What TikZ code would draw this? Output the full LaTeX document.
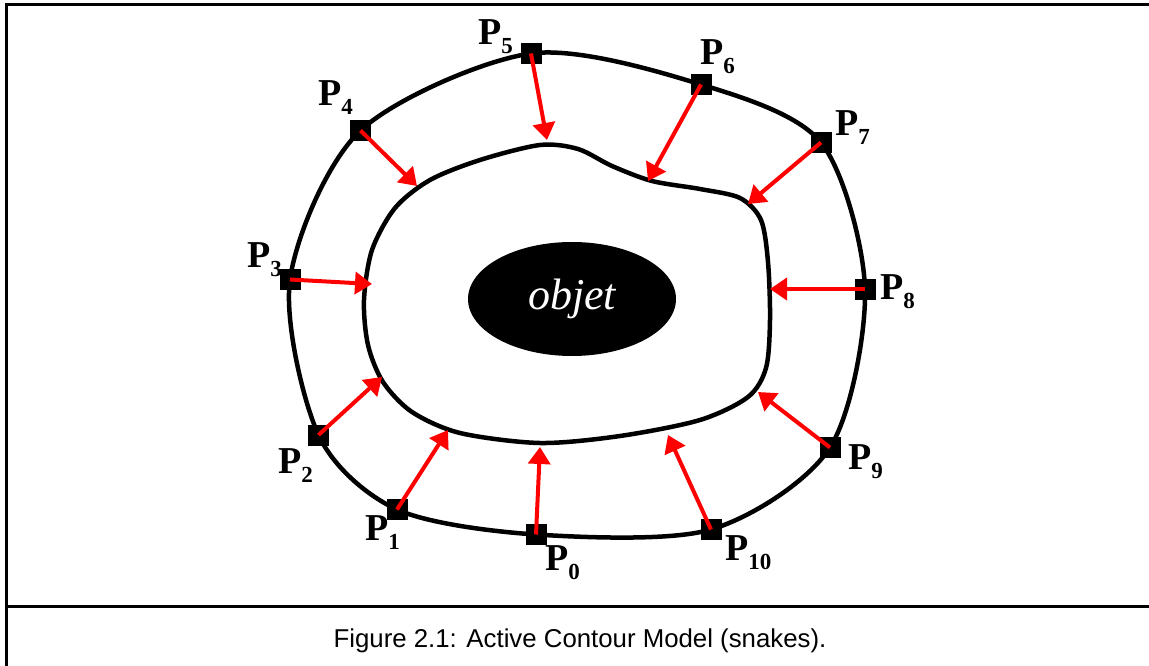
\documentclass[tikz,border=0pt]{standalone}
\usepackage{fontspec}
\setmainfont{Liberation Serif}
\setsansfont{Liberation Sans}
\usepackage{tikz}
\usetikzlibrary{arrows.meta,positioning,shapes.geometric}

\newcommand{\ptlab}[1]{P\raisebox{-9pt}{\fontsize{23}{23}\selectfont #1}}

\begin{document}
\begin{tikzpicture}[
    x=1pt, y=-1pt,
    ctrl/.style={draw=none, fill=black, minimum size=21pt, inner sep=0pt},
    plab/.style={anchor=base west, inner sep=0pt, font=\fontsize{38}{40}\selectfont\bfseries},
    contour/.style={line width=4.5pt, line join=round},
    force/.style={red, line width=4pt, -{Triangle[length=17pt, width=22pt]}},
    obj/.style={ellipse, fill=black, minimum width=208pt, minimum height=114pt,
                text=white, font=\fontsize{44}{44}\selectfont\itshape},
    frame/.style={line width=3pt}
]
\useasboundingbox (0,0) rectangle (1149,666);
% frame and caption
\draw[frame] (1149,5) -- (6,5) -- (6,666);
\draw[frame] (6,606.5) -- (1149,606.5);
\node[anchor=base, font=\sffamily\fontsize{25.8}{28}\selectfont] (cap) at (580,647)
    {Figure 2.1: Active Contour Model (snakes).};

% control points of the snake
\node[ctrl] (P0) at (536,534.5) {};
\node[ctrl] (P1) at (397,509.5) {};
\node[ctrl] (P2) at (318.5,435) {};
\node[ctrl] (P3) at (290,279.5) {};
\node[ctrl] (P4) at (360.5,130.5) {};
\node[ctrl] (P5) at (531,53.5) {};
\node[ctrl] (P6) at (701,84.5) {};
\node[ctrl] (P7) at (821,142.5) {};
\node[ctrl] (P8) at (865,289) {};
\node[ctrl] (P9) at (830,447.5) {};
\node[ctrl] (P10) at (711,529.5) {};

% initial contour
\draw[contour] plot[smooth cycle] coordinates {(P0.center) (P1.center) (P2.center)
    (P3.center) (P4.center) (P5.center) (P6.center) (P7.center) (P8.center)
    (P9.center) (P10.center)};

% final contour
\draw[contour] plot[smooth cycle] coordinates {(364,300) (372,250) (395,208)
    (430,180) (480,160) (540,145) (578,149) (612,166) (652,181) (700,189)
    (740,198) (761,220) (768,262) (770,320) (766,368) (748,397) (700,420)
    (620,436) (540,443) (460,433) (412,412) (383,382) (368,345)};

\node[obj] (objet) at (572,299) {objet};

% labels
\node[plab] (L0) at (545,570) {\ptlab{0}};
\node[plab] (L1) at (365,540) {\ptlab{1}};
\node[plab] (L2) at (278,473) {\ptlab{2}};
\node[plab] (L3) at (247,267) {\ptlab{3}};
\node[plab] (L4) at (318,106) {\ptlab{4}};
\node[plab] (L5) at (478,45) {\ptlab{5}};
\node[plab] (L6) at (700,65) {\ptlab{6}};
\node[plab] (L7) at (835,136) {\ptlab{7}};
\node[plab] (L8) at (880,299) {\ptlab{8}};
\node[plab] (L9) at (848,469) {\ptlab{9}};
\node[plab] (L10) at (725,560) {\ptlab{10}};

% arrow tips on the object boundary
\coordinate (T0) at (540,447);
\coordinate (T1) at (448,430);
\coordinate (T2) at (382,377);
\coordinate (T3) at (372,284);
\coordinate (T4) at (417,186);
\coordinate (T5) at (547,140);
\coordinate (T6) at (648,181);
\coordinate (T7) at (748,204);
\coordinate (T8) at (770,289);
\coordinate (T9) at (758,392);
\coordinate (T10) at (668,435);

\foreach \i in {0,...,10}
    \draw[force] (P\i.center) -- (T\i);
\end{tikzpicture}
\end{document}
